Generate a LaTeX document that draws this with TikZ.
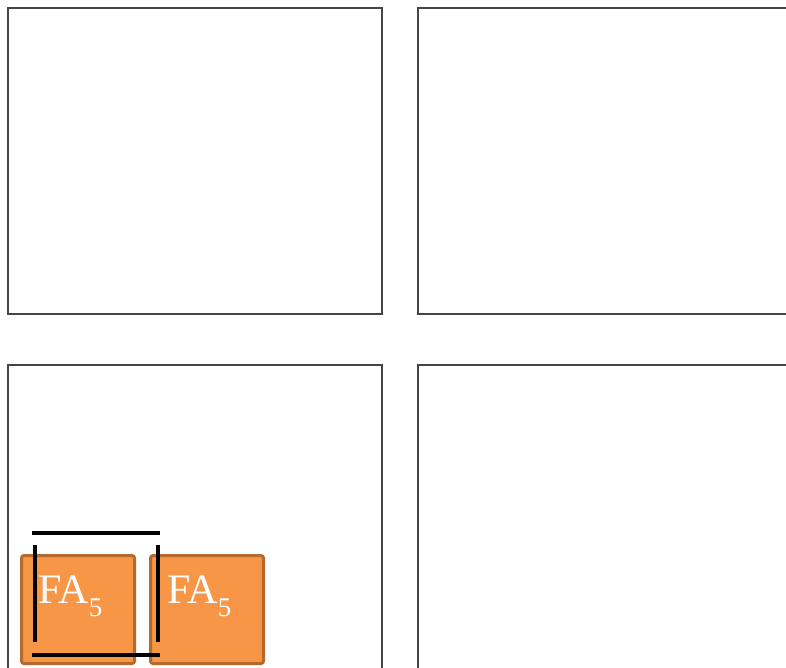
\documentclass[tikz,border=0pt]{standalone}
\usepackage{fontspec}
\setmainfont{Liberation Serif}
\definecolor{fafill}{HTML}{F79646}
\definecolor{faedge}{HTML}{B46A2E}
\definecolor{panel}{HTML}{454545}
\tikzset{
  panelbox/.style={draw=panel, line width=1.5pt, fill=white},
  fabox/.style={draw=faedge, fill=fafill, line width=3pt, rounded corners=2.5pt, minimum width=113pt, minimum height=108pt, inner sep=0pt, anchor=north west},
  falabel/.style={text=white, inner sep=0pt, anchor=base west, font=\fontsize{42}{42}\selectfont},
  bracket/.style={draw=black, line width=3.2pt}
}
\newcommand{\fasub}{FA\raisebox{-13pt}{\fontsize{27}{27}\selectfont 5}}
\begin{document}
\begin{tikzpicture}[x=1pt,y=-1pt]
\useasboundingbox (0,0) rectangle (786,668);
\clip (0,0) rectangle (786,668);
\fill[white] (0,0) rectangle (786,668);
% panels
\draw[panelbox] (8,8) rectangle (382,314);
\draw[panelbox] (418,8) rectangle (800,314);
\draw[panelbox] (8,365) rectangle (382,690);
\draw[panelbox] (418,365) rectangle (800,690);
% orange blocks
\node[fabox] (b1) at (20,554) {};
\node[fabox] (b2) at (149,554) {};
\node[falabel] (fa1) at (38,603) {\fasub};
\node[falabel] (fa2) at (167,603) {\fasub};
% bracket
\coordinate (tl) at (32,533);
\coordinate (tr) at (160,533);
\coordinate (bl) at (32,655);
\coordinate (br) at (160,655);
\coordinate (l1) at (35,545);
\coordinate (l2) at (35,642);
\coordinate (r1) at (158,545);
\coordinate (r2) at (158,642);
\draw[bracket] (tl) -- (tr);
\draw[bracket] (bl) -- (br);
\draw[bracket] (l1) -- (l2);
\draw[bracket] (r1) -- (r2);
\end{tikzpicture}
\end{document}
